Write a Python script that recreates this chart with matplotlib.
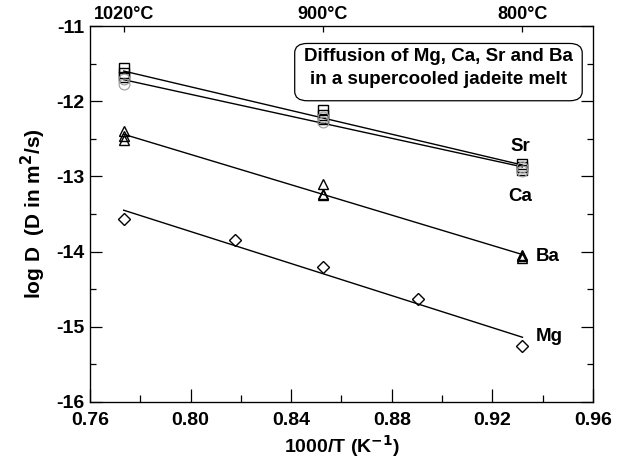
import numpy as np
import matplotlib
matplotlib.use("Agg")
import matplotlib.pyplot as plt
from matplotlib.patches import FancyBboxPatch

plt.rcParams['font.family'] = ['Liberation Sans', 'DejaVu Sans']
plt.rcParams['font.weight'] = 'bold'
plt.rcParams['mathtext.default'] = 'bf'

# log D (m^2/s) for each element, with the run temperature (K) of each point
sr_T = [1293, 1293, 1293, 1173, 1173, 1173, 1073, 1073, 1073]
sr_logD = [-11.56, -11.62, -11.68, -12.12, -12.18, -12.24, -12.83, -12.87, -12.91]

ca_T = [1293, 1293, 1173, 1173, 1073, 1073]
ca_logD = [-11.71, -11.77, -12.21, -12.27, -12.87, -12.93]

ba_T = [1293, 1293, 1293, 1173, 1173, 1173, 1073, 1073, 1073]
ba_logD = [-12.40, -12.46, -12.52, -13.10, -13.24, -13.25, -14.04, -14.06, -14.08]

mg_T = [1293, 1223, 1173, 1123, 1073]
mg_logD = [-13.56, -13.85, -14.21, -14.63, -15.25]

top_T_C = [1020, 900, 800]
top_labels = ["1020°C", "900°C", "800°C"]

fig = plt.figure(figsize=(6.24, 4.62), dpi=100)
ax = fig.add_axes([0.1442, 0.1299, 0.8061, 0.8138])


def inv(T):
    return 1000.0 / np.asarray(T, dtype=float)


def fit_line(x, y):
    k, b = np.polyfit(x, y, 1)
    xs = np.array([x.min(), x.max()])
    return xs, k * xs + b


series = [
    (sr_T, sr_logD, dict(marker='s', ms=7.2, mec='black', mfc='none', mew=1.0)),
    (ca_T, ca_logD, dict(marker='o', ms=7.8, mec='#9a9a9a', mfc='none', mew=0.8)),
    (ba_T, ba_logD, dict(marker='^', ms=7.8, mec='black', mfc='none', mew=1.0)),
    (mg_T, mg_logD, dict(marker='D', ms=5.8, mec='black', mfc='none', mew=1.0)),
]

for T, logD, style in series:
    x = inv(T)
    y = np.asarray(logD)
    xs, ys = fit_line(x, y)
    ax.plot(xs, ys, color='black', lw=1.0, zorder=2)
    ax.plot(x, y, ls='none', zorder=3, **style)

# element labels at the low-temperature end
lab_kw = dict(fontsize=13.5, fontweight='bold', va='center', ha='left')
ax.text(0.9270, -12.60, "Sr", **lab_kw)
ax.text(0.9262, -13.27, "Ca", **lab_kw)
ax.text(0.9372, -14.06, "Ba", **lab_kw)
ax.text(0.9372, -15.13, "Mg", **lab_kw)

ax.set_xlim(0.76, 0.96)
ax.set_ylim(-16, -11)
xmaj = np.arange(0.76, 0.9601, 0.04)
ymaj = np.arange(-16, -10.99, 1)
ax.set_xticks(xmaj)
ax.set_xticks(np.arange(0.78, 0.96, 0.04), minor=True)
ax.set_yticks(ymaj)
ax.set_yticks(np.arange(-15.5, -11, 1), minor=True)
ax.set_xticklabels([f"{v:.2f}" for v in xmaj])
ax.set_yticklabels([f"{int(v)}" for v in ymaj])
ax.tick_params(which='both', direction='in', top=False, right=True,
               labelsize=14, width=0.9)
ax.tick_params(axis='x', which='major', length=9.4, pad=7.5)
ax.tick_params(axis='x', which='minor', length=5)
ax.tick_params(axis='y', which='major', length=8.6, pad=4)
ax.tick_params(axis='y', which='minor', length=4.3)
for lab in ax.get_xticklabels() + ax.get_yticklabels():
    lab.set_fontweight('bold')
for sp in ax.spines.values():
    sp.set_linewidth(0.9)

ax.set_xlabel("1000/T (K$^{-1}$)", fontsize=14, fontweight='bold', labelpad=3)
ax.set_ylabel("log D  (D in m$^{2}$/s)", fontsize=15, fontweight='bold', labelpad=6)

# temperature scale on the top axis
top = ax.twiny()
top.set_xlim(ax.get_xlim())
top.set_xticks(1000.0 / (np.array(top_T_C) + 273.0))
top.set_xticklabels(top_labels)
top.tick_params(direction='in', length=4.5, width=0.9, labelsize=13, pad=2)
for lab in top.get_xticklabels():
    lab.set_fontweight('bold')

# title box
box = FancyBboxPatch((0.4070, 0.8012), 0.5716, 0.1524,
                     boxstyle="round,pad=0,rounding_size=0.025",
                     transform=ax.transAxes, fc='white', ec='black', lw=0.9,
                     zorder=4)
ax.add_patch(box)
ax.text(0.6928, 0.9200, "Diffusion of Mg, Ca, Sr and Ba", transform=ax.transAxes,
        fontsize=13.5, fontweight='bold', ha='center', va='center', zorder=5)
ax.text(0.6928, 0.8590, "in a supercooled jadeite melt", transform=ax.transAxes,
        fontsize=13.5, fontweight='bold', ha='center', va='center', zorder=5)

fig.savefig("out.png", dpi=100)
